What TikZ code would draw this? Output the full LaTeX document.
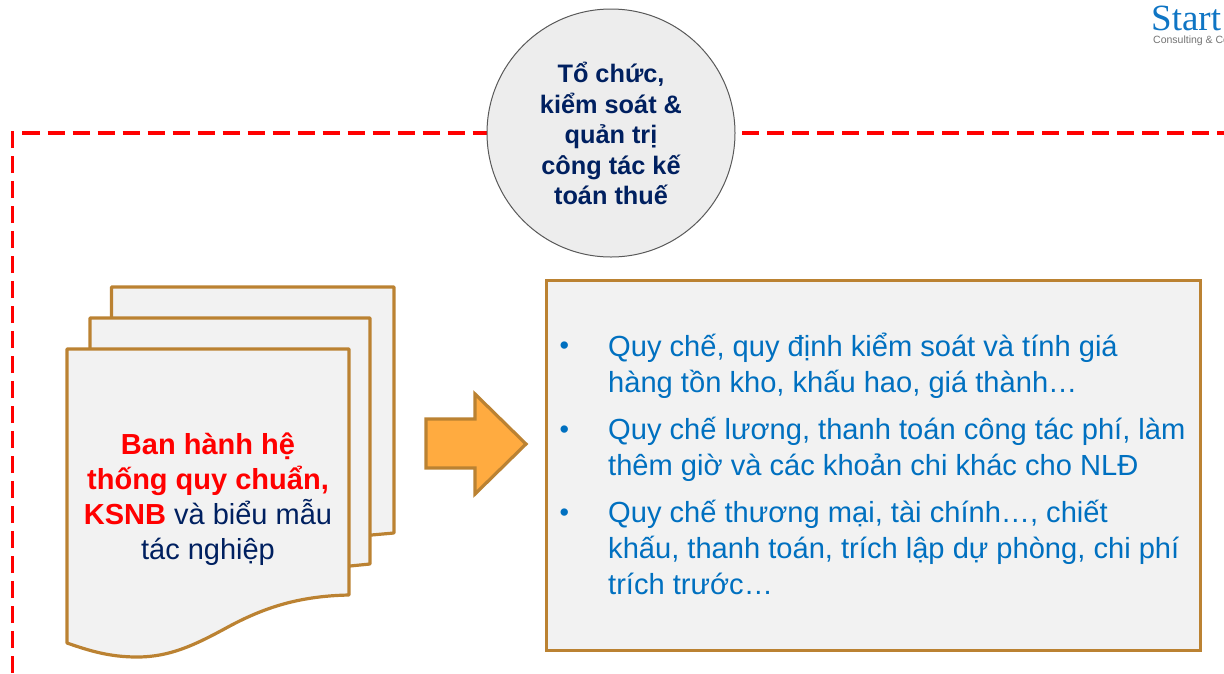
\documentclass[tikz,border=0pt]{standalone}
\usepackage{fontspec}
\setmainfont{Liberation Sans}
\newfontfamily\logofont{Liberation Serif}
\usepackage{tikz}
\definecolor{sheetedge}{HTML}{BB8232}
\definecolor{sheetfill}{HTML}{F2F2F2}
\definecolor{navytext}{HTML}{002060}
\definecolor{bluetext}{HTML}{0070C0}
\definecolor{arrowfill}{HTML}{FFAB40}
\definecolor{logoblue}{HTML}{0F75C4}
\tikzset{
  sheet/.style={draw=sheetedge,fill=sheetfill,line width=3.2pt,line join=round},
  rule/.style={draw=red,line width=3.5pt,dash pattern=on 17pt off 8pt},
  point/.style={inner sep=0pt,anchor=north west,align=left,text=bluetext,font=\fontsize{29.1}{36}\selectfont},
  bullet/.style={inner sep=0pt,anchor=base west,text=bluetext,font=\fontsize{27}{36}\selectfont}
}
\begin{document}
\begin{tikzpicture}[x=1pt,y=-1pt]
\useasboundingbox (0,0) rectangle (1224,673);
\coordinate (R1) at (12.5,673);
\coordinate (R2) at (12.5,133);
\coordinate (R3) at (487,133);
\coordinate (R4) at (742,133);
\coordinate (R5) at (1224,133);

\draw[rule] (R1) -- (R2) -- (R3);
\draw[rule] (R4) -- (R5);

\node[circle,draw=black!65,fill=black!7,line width=1pt,minimum size=248pt,inner sep=0pt,outer sep=0pt] (topic) at (611,133) {};
\node[align=center,text=navytext,inner sep=0pt,font=\bfseries\fontsize{25.3}{30.5}\selectfont] (topictext) at (611,133.5)
  {Tổ chức,\\kiểm soát \&\\quản trị\\công tác kế\\toán thuế};

\draw[sheet] (111.5,287) -- (394,287) -- (394,533) -- (349,537) -- (111.5,537) -- cycle;
\draw[sheet] (90,318) -- (370,318) -- (370,564) -- (340,567) -- (90,567) -- cycle;
\draw[sheet] (67,349) -- (349,349) -- (349,595)
  .. controls (300,596) and (265,607) .. (228,627)
  .. controls (195,645) and (170,657) .. (137,657)
  .. controls (110,657) and (90,651) .. (67,643) -- cycle;
\node[align=center,text=navytext,inner sep=0pt,font=\fontsize{29}{35}\selectfont] (sheettext) at (208,499.5)
  {\textcolor{red}{\bfseries Ban hành hệ}\\\textcolor{red}{\bfseries thống quy chuẩn,}\\\textcolor{red}{\bfseries KSNB} và biểu mẫu\\tác nghiệp};

\draw[draw=sheetedge,fill=arrowfill,line width=3.2pt,line join=miter]
  (426,419) -- (475,419) -- (475,394) -- (526,444) -- (475,494) -- (475,468) -- (426,468) -- cycle;

\node[draw=sheetedge,fill=sheetfill,line width=2.8pt,minimum width=654pt,minimum height=370pt,
  inner sep=0pt,outer sep=0pt,anchor=north west] (listbox) at (546.5,280.5) {};

\node[bullet] (b1) at (559.5,354) {•};
\node[point] (p1) at (608,332.5) {Quy chế, quy định kiểm soát và tính giá\\hàng tồn kho, khấu hao, giá thành…};
\node[bullet] (b2) at (559.5,438) {•};
\node[point] (p2) at (608,416.5) {Quy chế lương, thanh toán công tác phí, làm\\thêm giờ và các khoản chi khác cho NLĐ};
\node[bullet] (b3) at (559.5,521) {•};
\node[point] (p3) at (608,499.5) {Quy chế thương mại, tài chính…, chiết\\khấu, thanh toán, trích lập dự phòng, chi phí\\trích trước…};

\node[inner sep=0pt,anchor=base west,text=logoblue,font=\logofont\fontsize{37}{37}\selectfont] (logo) at (1151,30) {Start};
\node[inner sep=0pt,anchor=base west,text=black!55,font=\fontsize{10.5}{12}\selectfont] (logosub) at (1153,43) {Consulting \& Co};
\end{tikzpicture}
\end{document}
